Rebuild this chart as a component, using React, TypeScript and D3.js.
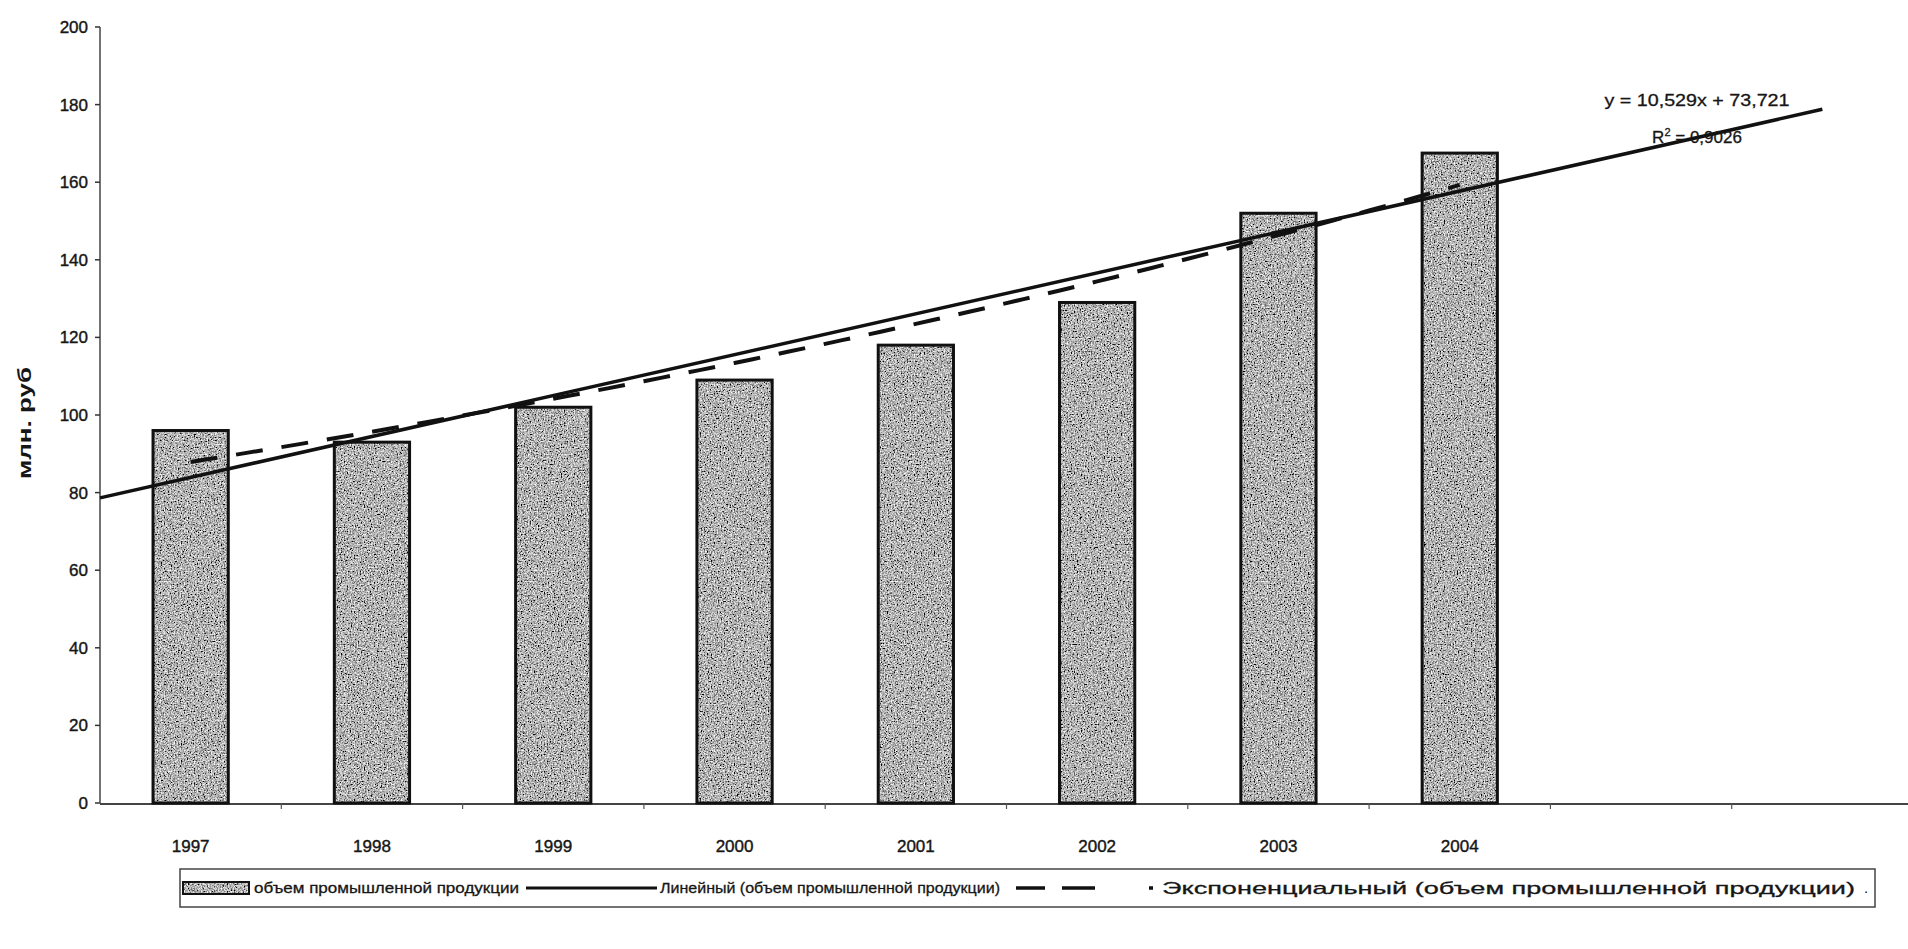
import React from 'react';
import * as d3 from 'd3';

// данные
const years = ['1997', '1998', '1999', '2000', '2001', '2002', '2003', '2004'];
const slots = ['1997', '1998', '1999', '2000', '2001', '2002', '2003', '2004', '2005', '2006'];
const production = [96, 93, 102, 109, 118, 129, 152, 167.5];
const yTicks = [0, 20, 40, 60, 80, 100, 120, 140, 160, 180, 200];
const legendLabels = [
  'объем промышленной продукции',
  'Линейный (объем промышленной продукции)',
  'Экспоненциальный (объем промышленной продукции)',
];
const equationText = ['y = 10,529x + 73,721', '0,9026'];

const W = 1908;
const H = 949;
const FONT = '"Liberation Sans", Arial, sans-serif';
const INK = '#161616';

const App = () => {
  const x = d3.scaleBand<string>().domain(slots).range([100, 1913]);
  const xn = d3.scaleLinear().domain([0.5, slots.length + 0.5]).range([100, 1913]);
  const y = d3.scaleLinear().domain([0, 200]).range([803, 27]);
  const barW = x.bandwidth() * 0.415;

  // линейный тренд (МНК)
  const xs = production.map((_, i) => i + 1);
  const mx = d3.mean(xs) as number;
  const my = d3.mean(production) as number;
  const sxx = d3.sum(xs, (v) => (v - mx) ** 2);
  const slope = d3.sum(xs, (v, i) => (v - mx) * (production[i] - my)) / sxx;
  const icpt = my - slope * mx;

  // экспоненциальный тренд
  const ly = production.map((v) => Math.log(v));
  const mly = d3.mean(ly) as number;
  const b = d3.sum(xs, (v, i) => (v - mx) * (ly[i] - mly)) / sxx;
  const a = Math.exp(mly - b * mx);

  const linPath = d3.line<number>().x((t) => xn(t)).y((t) => y(icpt + slope * t))([0.5, 10]);
  const expPath = d3.line<number>().x((t) => xn(t)).y((t) => y(a * Math.exp(b * t)))(d3.range(1, 8.01, 0.1));

  const ly0 = 888; // центр строки легенды

  return (
    <svg width={W} height={H} style={{ position: 'absolute', left: 0, top: 0, display: 'block', background: '#fff' }}>
      <defs>
        <filter id="grain" x="0" y="0" width="1" height="1">
          <feTurbulence type="fractalNoise" baseFrequency="0.7" numOctaves="2" seed="4" result="n" />
          <feColorMatrix in="n" type="matrix"
            values="1.9 0 0 0 -0.5  1.9 0 0 0 -0.5  1.9 0 0 0 -0.5  0 0 0 0 1" result="g" />
          <feComposite in="g" in2="SourceGraphic" operator="in" />
        </filter>
      </defs>

      {/* ось Y */}
      <line x1={100} x2={100} y1={y(200)} y2={y(0)} stroke="#444" strokeWidth={1.5} />
      {yTicks.map((t) => (
        <g key={t}>
          <line x1={95} x2={100} y1={y(t)} y2={y(t)} stroke="#333" strokeWidth={1.5} />
          <text x={88} y={y(t) + 6} textAnchor="end" fontFamily={FONT} fontSize={17} fill={INK}
            stroke={INK} strokeWidth={0.4}>{t}</text>
        </g>
      ))}
      <text transform={`translate(31,${423}) rotate(-90)`} textAnchor="middle" fontFamily={FONT}
        fontSize={18} fontWeight="bold" fill={INK} textLength={112} lengthAdjust="spacingAndGlyphs">млн. руб</text>

      {/* ось X */}
      <line x1={100} x2={W} y1={y(0) + 1} y2={y(0) + 1} stroke="#444" strokeWidth={2} />
      {slots.map((s) => (
        <line key={s} x1={(x(s) as number) + x.bandwidth()} x2={(x(s) as number) + x.bandwidth()}
          y1={y(0)} y2={y(0) + 6} stroke="#555" strokeWidth={1.2} />
      ))}
      {years.map((s) => (
        <text key={s} x={(x(s) as number) + x.bandwidth() / 2} y={852} textAnchor="middle"
          fontFamily={FONT} fontSize={17} fill={INK} stroke={INK} strokeWidth={0.4}>{s}</text>
      ))}

      {/* столбцы */}
      {production.map((v, i) => {
        const cx = (x(years[i]) as number) + x.bandwidth() / 2;
        return (
          <g key={i}>
            <rect x={cx - barW / 2} y={y(v)} width={barW} height={y(0) - y(v)} fill="#888" filter="url(#grain)" />
            <rect x={cx - barW / 2} y={y(v)} width={barW} height={y(0) - y(v)} fill="none" stroke="#111" strokeWidth={3} />
          </g>
        );
      })}

      {/* тренды */}
      <path d={expPath as string} fill="none" stroke="#111" strokeWidth={4} strokeDasharray="27 19" />
      <path d={linPath as string} fill="none" stroke="#111" strokeWidth={3.5} />

      <text x={1697} y={106} textAnchor="middle" fontFamily={FONT} fontSize={17} fill={INK}
        stroke={INK} strokeWidth={0.3} textLength={185} lengthAdjust="spacingAndGlyphs">{equationText[0]}</text>
      <text x={1697} y={143} textAnchor="middle" fontFamily={FONT} fontSize={17} fill={INK} stroke={INK} strokeWidth={0.3}>
        R<tspan dy={-7} fontSize={11}>2</tspan><tspan dy={7}> = {equationText[1]}</tspan>
      </text>

      {/* легенда */}
      <rect x={180} y={ly0 - 19} width={1695} height={38} fill="none" stroke="#444" strokeWidth={1.5} />
      <rect x={183} y={ly0 - 6} width={66} height={12} fill="#888" filter="url(#grain)" />
      <rect x={183} y={ly0 - 6} width={66} height={12} fill="none" stroke="#111" strokeWidth={2} />
      <text x={254} y={ly0 + 5} fontFamily={FONT} fontSize={15} fill={INK} stroke={INK} strokeWidth={0.3}
        textLength={265} lengthAdjust="spacingAndGlyphs">{legendLabels[0]}</text>
      <line x1={526} x2={657} y1={ly0} y2={ly0} stroke="#111" strokeWidth={3} />
      <text x={660} y={ly0 + 5} fontFamily={FONT} fontSize={15} fill={INK} stroke={INK} strokeWidth={0.3}
        textLength={340} lengthAdjust="spacingAndGlyphs">{legendLabels[1]}</text>
      <line x1={1016} x2={1153} y1={ly0} y2={ly0} stroke="#111" strokeWidth={3.5} strokeDasharray="29 17 33 54 4 50" />
      <text x={1162} y={ly0 + 6} fontFamily={FONT} fontSize={17} fill={INK} stroke={INK} strokeWidth={0.3}
        textLength={693} lengthAdjust="spacingAndGlyphs">{legendLabels[2]}</text>
      <text x={1864} y={ly0 + 5} fontFamily={FONT} fontSize={15} fill={INK}>.</text>
    </svg>
  );
};

export default App;
